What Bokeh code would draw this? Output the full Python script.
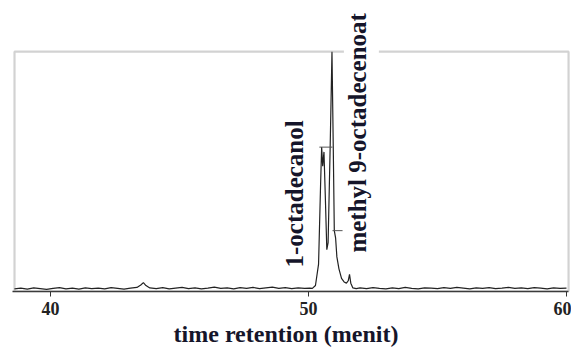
from math import pi
from bokeh.plotting import figure
from bokeh.models import Label, Range1d, FixedTicker, BoxAnnotation
from bokeh.embed import file_html
from bokeh.resources import INLINE

# Chromatogram (retention time in minutes, relative intensity)
rt = [38.60, 38.85, 39.10, 39.35, 39.60, 39.85, 40.10, 40.35, 40.60, 40.85,
      41.10, 41.35, 41.60, 41.85, 42.10, 42.35, 42.60, 42.85, 43.10, 43.35,
      43.50, 43.60, 43.70, 43.85, 44.10, 44.35, 44.60, 44.85, 45.10, 45.35,
      45.60, 45.85, 46.10, 46.35, 46.60, 46.85, 47.10, 47.35, 47.60, 47.85,
      48.10, 48.35, 48.60, 48.85, 49.10, 49.35, 49.60, 49.85, 50.05, 50.15,
      50.27, 50.39, 50.47, 50.51, 50.55, 50.60, 50.65, 50.71, 50.76, 50.84,
      50.91, 50.96, 51.00, 51.05, 51.10, 51.18, 51.28, 51.38, 51.47, 51.54,
      51.59, 51.64, 51.72, 51.85, 52.00, 52.25, 52.50,
      52.75, 53.00, 53.25, 53.50, 53.75, 54.00, 54.25, 54.50, 54.75, 55.00,
      55.25, 55.50, 55.75, 56.00, 56.25, 56.50, 56.75, 57.00, 57.25, 57.50,
      57.75, 58.00, 58.25, 58.50, 58.75, 59.00, 59.25, 59.50, 59.75, 60.00]
intensity = [0.6, 0.9, 0.5, 1.0, 0.7, 0.4, 0.8, 1.1, 0.6, 0.9,
             0.5, 1.0, 0.7, 0.9, 0.6, 1.1, 0.8, 0.5, 0.9, 1.2,
             2.2, 3.2, 2.0, 1.0, 0.7, 1.1, 0.6, 0.9, 1.2, 0.7,
             1.0, 0.6, 0.9, 1.3, 0.8, 1.0, 0.6, 1.1, 0.8, 1.2,
             0.7, 1.0, 1.3, 0.8, 1.1, 0.7, 1.0, 0.8, 0.9, 0.8,
             2.0, 11.0, 45.0, 60.0, 52.0, 58.0, 40.0, 17.0, 20.0, 60.0,
             100.0, 60.0, 25.0, 22.0, 14.0, 9.0, 5.0, 3.5, 3.0, 4.0,
             6.7, 3.0, 1.0, 0.7, 1.0, 0.7, 1.1,
             0.8, 0.6, 1.0, 0.7, 1.2, 0.8, 0.6, 1.0, 0.9, 0.7,
             1.1, 0.8, 1.2, 0.9, 0.6, 1.0, 0.8, 1.1, 0.7, 0.9,
             1.2, 0.8, 1.0, 0.7, 1.1, 0.9, 0.6, 1.0, 0.8, 0.9]

# integrator peak-top markers
mark_x0 = [50.42, 50.93]
mark_x1 = [50.93, 51.32]
mark_y = [60.0, 25.0]

# peak labels
peak_names = ["1-octadecanol", "methyl 9-octadecenoat"]
peak_label_x = [49.46, 52.05]
peak_label_y = [40.4, 66.0]

ticks = [40, 50, 60]
x_title = "time retention (menit)"

# plot box (time range of the run, full scale)
box_left, box_right, box_top = 38.605, 60.08, 100.0

p = figure(width=571, height=349, output_backend="svg", toolbar_location=None,
           x_range=Range1d(38.062, 60.194), y_range=Range1d(-0.5, 121.45),
           min_border_left=0, min_border_right=0, min_border_top=0,
           min_border_bottom=0)

p.outline_line_color = None
p.xgrid.visible = False
p.ygrid.visible = False
p.yaxis.visible = False
p.background_fill_color = "white"
p.border_fill_color = "white"

p.add_layout(BoxAnnotation(left=box_left, right=box_right, top=box_top, bottom=-0.5,
                           fill_color=None, line_color="#6a6a6a", line_width=2.2))

p.line(rt, intensity, line_color="#222222", line_width=1.2)
p.segment(x0=mark_x0, y0=mark_y, x1=mark_x1, y1=mark_y, line_color="#555555", line_width=1)

for i, (name, lx, ly) in enumerate(zip(peak_names, peak_label_x, peak_label_y)):
    lab = Label(x=lx, y=ly, text=name, angle=pi / 2, text_align="center",
                text_baseline="middle", text_font="Liberation Serif",
                text_font_style="bold", text_font_size="25px", text_color="#15152a",
                level="overlay")
    if i == 1:
        lab.background_fill_color = "white"
        lab.padding = dict(left=0, right=0, top=0, bottom=8)
    p.add_layout(lab)

ax = p.xaxis[0]
ax.ticker = FixedTicker(ticks=ticks)
ax.bounds = (box_left - 0.08, box_right)
ax.axis_label = x_title
ax.axis_label_text_font = "Liberation Serif"
ax.axis_label_text_font_style = "bold"
ax.axis_label_text_font_size = "24px"
ax.axis_label_text_color = "#15152a"
ax.axis_label_standoff = 3
ax.major_label_text_font = "Liberation Serif"
ax.major_label_text_font_style = "bold"
ax.major_label_text_font_size = "18px"
ax.major_label_text_color = "#222222"
ax.major_label_standoff = 5
ax.major_tick_in = 0
ax.major_tick_out = 5
ax.minor_tick_in = 0
ax.minor_tick_out = 0
ax.axis_line_color = "#333333"
ax.axis_line_width = 1.5
ax.major_tick_line_color = "#333333"

open("out.html", "w").write(file_html(p, INLINE))
